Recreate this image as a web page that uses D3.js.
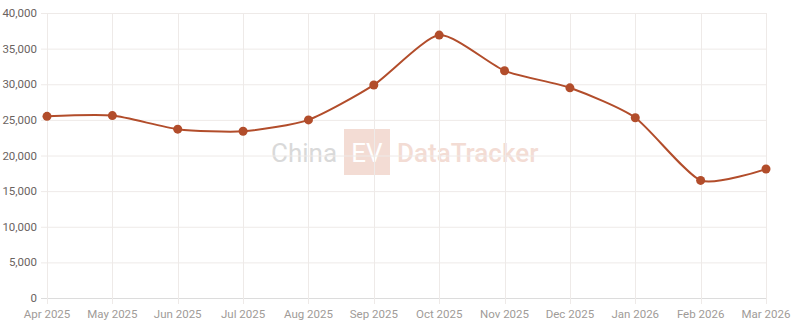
<!DOCTYPE html>
<html><head><meta charset="utf-8">
<script src="https://cdn.jsdelivr.net/npm/d3@7/dist/d3.min.js"></script>
<style>body{margin:0;background:#fff;}svg{display:block;font-family:Roboto,sans-serif;}</style>
</head><body><svg id="c" width="800" height="328"></svg>
<script>
const months = ["Apr 2025","May 2025","Jun 2025","Jul 2025","Aug 2025","Sep 2025","Oct 2025","Nov 2025","Dec 2025","Jan 2026","Feb 2026","Mar 2026"];
const values = [25500,25600,23700,23400,25000,29900,36900,31900,29500,25300,16500,18100];
const yTicks = [0,5000,10000,15000,20000,25000,30000,35000,40000];

const svg = d3.select("#c");
const m = {l:47, r:766, t:13, b:298};
const x = d3.scalePoint().domain(months).range([m.l, m.r]);
const y = d3.scaleLinear().domain([0,40000]).range([m.b, m.t]);

// watermark
const wm = svg.append("g");
wm.append("text").attr("x",271).attr("y",162).attr("font-size",26).attr("fill","#d9d9d9").text("China");
wm.append("rect").attr("x",344).attr("y",129).attr("width",46).attr("height",46).attr("fill","#f3dcd4");
wm.append("text").attr("x",367).attr("y",162).attr("text-anchor","middle").attr("font-size",26).attr("fill","#ffffff").text("EV");
wm.append("text").attr("x",397).attr("y",162).attr("font-size",26).attr("font-weight",500).attr("fill","#f3dcd4").text("DataTracker");

// grid
svg.append("g").selectAll("line").data(yTicks).join("line")
  .attr("x1",41).attr("x2",m.r).attr("y1",d=>y(d)+0.5).attr("y2",d=>y(d)+0.5)
  .attr("stroke",d=>d===0?"#dcdcdc":"#eeeae8").attr("stroke-width",1);
svg.append("g").selectAll("line").data(months).join("line")
  .attr("x1",d=>Math.round(x(d))+0.5).attr("x2",d=>Math.round(x(d))+0.5)
  .attr("y1",m.t).attr("y2",m.b+6)
  .attr("stroke","#eeeae8").attr("stroke-width",1);

// y labels
svg.append("g").selectAll("text").data(yTicks).join("text")
  .attr("x",37).attr("y",d=>y(d)+4).attr("text-anchor","end")
  .attr("font-size",11.5).attr("fill","#6b635f").text(d=>d3.format(",")(d));
// x labels
svg.append("g").selectAll("text").data(months).join("text")
  .attr("x",d=>x(d)).attr("y",318).attr("text-anchor","middle")
  .attr("font-size",11.5).attr("fill","#a09b98").text(d=>d);

const line = d3.line().x((d,i)=>x(months[i])).y(d=>y(d)).curve(d3.curveCardinal.tension(0.35));
svg.append("path").datum(values).attr("d",line).attr("fill","none")
  .attr("stroke","#b24d2b").attr("stroke-width",2);
svg.append("g").selectAll("circle").data(values).join("circle")
  .attr("cx",(d,i)=>x(months[i])).attr("cy",d=>y(d)).attr("r",4.5).attr("fill","#b24d2b");
</script></body></html>
